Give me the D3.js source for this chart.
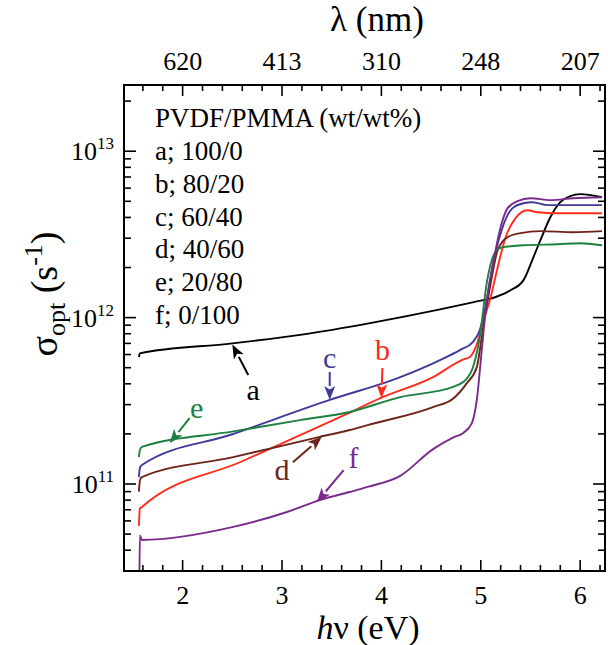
<!DOCTYPE html>
<html>
<head>
<meta charset="utf-8">
<style>
  @font-face { font-family: "ChartSerif"; src: local("Liberation Serif"), local("LiberationSerif"), local("LiberationSerif-Regular"); }
  @font-face { font-family: "ChartSerif"; font-style: italic; src: local("Liberation Serif Italic"), local("LiberationSerif-Italic"); }
  html, body { margin: 0; background: #fff; font-family: "Liberation Serif", "ChartSerif", Times, serif; }
</style>
</head>
<body>
<script src="https://d3js.org/d3.v7.min.js"></script>
<script>
  // photon energy hv (eV) vs optical conductivity sigma_opt (s^-1)
  const curveA = [[1.56, 5.8e11], [1.57, 6.1e11], [2.5, 7.0e11], [3.2, 7.9e11], [3.9, 9.3e11], [4.59, 1.12e12],
    [4.93, 1.24e12], [5.15, 1.33e12], [5.3, 1.46e12], [5.43, 1.68e12], [5.53, 2.31e12], [5.6, 2.92e12],
    [5.7, 4.01e12], [5.8, 4.94e12], [5.9, 5.37e12], [6.0, 5.52e12], [6.22, 5.29e12]];
  const curveB = [[1.56, 5.6e10], [1.57, 7.1e10], [1.59, 7.28e10], [2.6, 1.37e11], [3.63, 2.6e11], [3.99, 3.28e11],
    [4.52, 4.39e11], [4.82, 5.6e11], [4.89, 5.8e11], [4.96, 6.9e11], [5.02, 9.27e11], [5.1, 1.33e12],
    [5.17, 2.01e12], [5.25, 3.04e12], [5.35, 3.96e12], [5.47, 4.42e12], [5.57, 4.3e12], [5.77, 4.24e12], [6.22, 4.24e12]];
  const curveC = [[1.56, 1.1e11], [1.57, 1.25e11], [1.59, 1.3e11], [2.5, 1.99e11], [3.48, 3.2e11], [4.19, 4.39e11],
    [4.59, 5.56e11], [4.79, 6.38e11], [4.92, 7.13e11], [4.99, 8.41e11], [5.06, 1.27e12], [5.13, 2.21e12],
    [5.22, 3.5e12], [5.32, 4.55e12], [5.43, 4.87e12], [5.52, 4.94e12], [5.67, 4.74e12], [6.22, 4.74e12]];
  const curveD = [[1.56, 9.0e10], [1.57, 1.05e11], [1.59, 1.1e11], [2.51, 1.45e11], [3.38, 1.92e11], [3.68, 2.11e11],
    [3.86, 2.26e11], [4.52, 2.9e11], [4.72, 3.25e11], [4.86, 4.04e11], [4.96, 5.04e11], [5.02, 8.41e11],
    [5.1, 1.61e12], [5.17, 2.54e12], [5.27, 3.04e12], [5.4, 3.22e12], [5.6, 3.31e12], [5.93, 3.26e12], [6.22, 3.31e12]];
  const curveE = [[1.56, 1.45e11], [1.57, 1.6e11], [1.59, 1.67e11], [2.51, 2.07e11], [3.18, 2.42e11], [3.68, 2.71e11],
    [4.19, 3.33e11], [4.72, 3.83e11], [4.86, 4.3e11], [4.92, 5.0e11], [4.99, 7.64e11], [5.06, 1.61e12],
    [5.14, 2.44e12], [5.22, 2.65e12], [5.43, 2.72e12], [5.77, 2.76e12], [6.0, 2.8e12], [6.22, 2.72e12]];
  const curveF = [[1.565, 2.8e10], [1.57, 4.9e10], [1.59, 4.61e10], [2.51, 5.52e10], [3.05, 6.79e10], [3.38, 8.0e10],
    [3.68, 8.95e10], [3.86, 9.6e10], [4.19, 1.12e11], [4.52, 1.62e11], [4.72, 1.9e11], [4.82, 2.02e11],
    [4.91, 2.32e11], [4.96, 3.2e11], [5.01, 6.38e11], [5.06, 1.27e12], [5.13, 2.21e12], [5.2, 3.5e12],
    [5.27, 4.55e12], [5.37, 5.01e12], [5.5, 5.22e12], [5.7, 5.08e12], [5.93, 5.22e12], [6.22, 5.29e12]];

  const curves = [curveA, curveB, curveC, curveD, curveE, curveF];
  const curveColors = ["#000000", "#ff2b1c", "#3f3b99", "#6e2418", "#1d8040", "#7b2a8c"];
  const curveLetters = ["a", "b", "c", "d", "e", "f"];

  // arrow annotations: [tipE, tipSigma], [tailE, tailSigma], [labelE, labelSigma]
  const arrowTips = [[2.5, 6.9e11], [4.0, 3.28e11], [3.48, 3.2e11], [3.4, 1.92e11], [1.87, 1.76e11], [3.35, 7.8e10]];
  const arrowTails = [[2.66, 4.52e11], [4.01, 4.98e11], [3.48, 4.71e11], [3.11, 1.35e11], [2.07, 2.49e11], [3.62, 1.21e11]];
  const arrowLabels = [[2.71, 3.67e11], [4.01, 6.38e11], [3.48, 5.71e11], [3.0, 1.21e11], [2.14, 2.86e11], [3.72, 1.43e11]];

  const legendTitle = "PVDF/PMMA (wt/wt%)";
  const legendItems = ["a; 100/0", "b; 80/20", "c; 60/40", "d; 40/60", "e; 20/80", "f; 0/100"];

  const energyTicks = [2, 3, 4, 5, 6];
  const wavelengthLabels = ["620", "413", "310", "248", "207"];
  const sigmaTicks = [1e11, 1e12, 1e13];

  const width = 608, height = 645;
  const plotLeft = 124, plotRight = 605, plotTop = 85, plotBottom = 571;
  const fontStyle = "font-family: 'Liberation Serif', 'ChartSerif', Times, serif";

  const x = d3.scaleLinear().domain([1.41, 6.25]).range([plotLeft, plotRight]);
  const y = d3.scaleLog().domain([3e10, 2.5e13]).range([plotBottom, plotTop]);

  const svg = d3.select("body").append("svg")
      .attr("width", width)
      .attr("height", height);

  // texts first, plain, the same way as a bare page
  function addText(px, py, size, content) {
    return svg.append("text")
        .attr("x", px)
        .attr("y", py)
        .attr("font-size", size)
        .attr("style", fontStyle)
        .text(content);
  }

  svg.append("defs").append("clipPath").attr("id", "plot-clip")
    .append("rect")
      .attr("x", plotLeft).attr("y", plotTop)
      .attr("width", plotRight - plotLeft).attr("height", plotBottom - plotTop);

  // minor tick positions
  const minorE = d3.range(1.6, 6.25, 0.2).filter(e => !energyTicks.some(t => Math.abs(t - e) < 1e-6));
  const minorSigma = [];
  for (let k = 10; k <= 13; k++) {
    for (let m = 2; m <= 9; m++) {
      const v = m * Math.pow(10, k);
      if (v > 3e10 && v < 2.5e13) minorSigma.push(v);
    }
  }

  const ticks = svg.append("g").attr("stroke", "#000").attr("stroke-width", 1.6);
  const majorLen = 11, minorLen = 6;

  // bottom and top (inward)
  for (const [y0, dir] of [[plotBottom, -1], [plotTop, 1]]) {
    ticks.append("g").selectAll("line").data(energyTicks).join("line")
        .attr("x1", d => x(d)).attr("x2", d => x(d))
        .attr("y1", y0).attr("y2", y0 + dir * majorLen);
    ticks.append("g").selectAll("line").data(minorE).join("line")
        .attr("x1", d => x(d)).attr("x2", d => x(d))
        .attr("y1", y0).attr("y2", y0 + dir * minorLen);
  }

  // left and right (inward)
  for (const [x0, dir] of [[plotLeft, 1], [plotRight, -1]]) {
    ticks.append("g").selectAll("line").data(sigmaTicks).join("line")
        .attr("x1", x0).attr("x2", x0 + dir * (majorLen + 1))
        .attr("y1", d => y(d)).attr("y2", d => y(d));
    ticks.append("g").selectAll("line").data(minorSigma).join("line")
        .attr("x1", x0).attr("x2", x0 + dir * (minorLen + 1))
        .attr("y1", d => y(d)).attr("y2", d => y(d));
  }

  // curves
  const line = d3.line()
      .x(d => x(d[0]))
      .y(d => y(d[1]))
      .curve(d3.curveMonotoneX);

  svg.append("g").attr("clip-path", "url(#plot-clip)")
    .selectAll("path")
    .data(curves)
    .join("path")
      .attr("fill", "none")
      .attr("stroke", (d, i) => curveColors[i])
      .attr("stroke-width", 1.9)
      .attr("stroke-linejoin", "round")
      .attr("d", line);

  // frame
  svg.append("rect")
      .attr("x", plotLeft).attr("y", plotTop)
      .attr("width", plotRight - plotLeft).attr("height", plotBottom - plotTop)
      .attr("fill", "none")
      .attr("stroke", "#000")
      .attr("stroke-width", 2);

  // tick labels
  energyTicks.forEach((d, i) => {
    addText(x(d), 604, 26, String(d)).attr("text-anchor", "middle");
    addText(x(d), 70, 26, wavelengthLabels[i]).attr("text-anchor", "middle");
  });

  sigmaTicks.forEach(d => {
    const t = addText(114, y(d) + 9, 26, null).attr("text-anchor", "end");
    t.append("tspan").text("10");
    t.append("tspan")
        .attr("font-size", 17)
        .attr("dy", -11)
        .text(Math.round(Math.log10(d)));
  });

  // axis titles
  const xTitle = addText(368, 639, 34, null).attr("text-anchor", "middle");
  xTitle.append("tspan").attr("font-style", "italic").text("h");
  xTitle.append("tspan").text("ν (eV)");

  addText(377, 31, 35, "λ (nm)").attr("text-anchor", "middle");

  const yTitle = addText(0, 0, 38, null)
      .attr("transform", "translate(57,294) rotate(-90)")
      .attr("text-anchor", "middle");
  yTitle.append("tspan").text("σ");
  yTitle.append("tspan").attr("font-size", 26).attr("dy", 8).text("opt");
  yTitle.append("tspan").attr("dy", -8).text(" (s");
  yTitle.append("tspan").attr("font-size", 26).attr("dy", -15).text("-1");
  yTitle.append("tspan").attr("dy", 15).text(")");

  // legend
  addText(155, 127, 27, legendTitle);
  legendItems.forEach((d, i) => addText(155, 160 + i * 32.8, 27, d));

  // arrows
  const ann = svg.append("g");
  curveLetters.forEach((letter, i) => {
    const tx = x(arrowTips[i][0]), ty = y(arrowTips[i][1]);
    const sx = x(arrowTails[i][0]), sy = y(arrowTails[i][1]);
    const ang = Math.atan2(ty - sy, tx - sx);
    const headLen = 14, headW = 5.5;
    const bx = tx - headLen * Math.cos(ang), by = ty - headLen * Math.sin(ang);
    ann.append("line")
        .attr("x1", sx).attr("y1", sy).attr("x2", bx).attr("y2", by)
        .attr("stroke", curveColors[i]).attr("stroke-width", 2);
    const p1 = [bx + headW * Math.sin(ang), by - headW * Math.cos(ang)];
    const p2 = [bx - headW * Math.sin(ang), by + headW * Math.cos(ang)];
    const notch = [tx - headLen * 0.75 * Math.cos(ang), ty - headLen * 0.75 * Math.sin(ang)];
    ann.append("path")
        .attr("d", `M${tx},${ty}L${p1[0]},${p1[1]}L${notch[0]},${notch[1]}L${p2[0]},${p2[1]}Z`)
        .attr("fill", curveColors[i]);
    addText(x(arrowLabels[i][0]), y(arrowLabels[i][1]), 30, letter)
        .attr("dy", "0.32em")
        .attr("text-anchor", "middle")
        .attr("fill", curveColors[i]);
  });
</script>
</body>
</html>
